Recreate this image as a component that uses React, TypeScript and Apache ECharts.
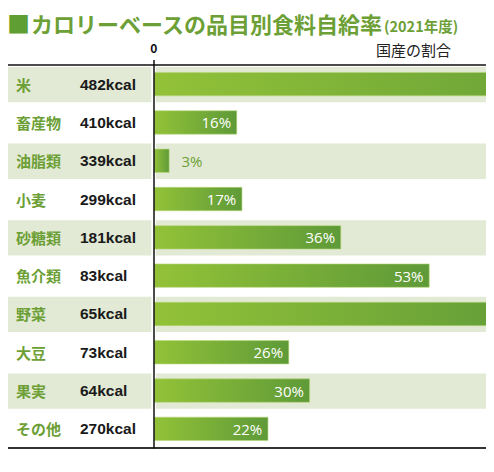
import React, { useEffect, useRef } from "react";
import * as echarts from "echarts";

const categories = ["米", "畜産物", "油脂類", "小麦", "砂糖類", "魚介類", "野菜", "大豆", "果実", "その他"];
const kcal = ["482kcal", "410kcal", "339kcal", "299kcal", "181kcal", "83kcal", "65kcal", "73kcal", "64kcal", "270kcal"];
const domesticShare = [98, 16, 3, 17, 36, 53, 76, 26, 30, 22];
const xTickLabels = [0];

const GREEN = "#6c9f35";
const BAND = "#e2e9d4";
const FONT = "'Noto Sans CJK JP', 'Noto Sans', sans-serif";
const VISIBLE_MAX = 60; // bars beyond this run off the page, so their labels are not shown

export default function App() {
  const ref = useRef<HTMLDivElement>(null);
  useEffect(() => {
    if (!ref.current) return;
    const chart = echarts.init(ref.current, null, { renderer: "svg" });
    const W = 494;
    const option: any = {
      animation: false,
      backgroundColor: "#ffffff",
      title: {
        left: 2,
        top: 6,
        text: "{sq|■}{main|カロリーベースの品目別食料自給率}{sub|(2021年度)}",
        textStyle: {
          fontFamily: FONT,
          rich: {
            sq: { fontSize: 23, color: "#5f9e33", fontFamily: FONT, padding: [0, 1, 0, 0] },
            main: { fontSize: 22, fontWeight: "bold", color: GREEN, fontFamily: FONT },
            sub: { fontSize: 14.5, fontWeight: "bold", color: GREEN, fontFamily: FONT, padding: [6, 0, 0, 1] },
          },
        },
      },
      graphic: [
        {
          type: "text",
          left: 376,
          top: 42,
          style: { text: "国産の割合", fontSize: 15, fill: "#222", fontFamily: FONT },
        },
      ],
      grid: { left: 3, right: -180, top: 65, bottom: 24, containLabel: false, outerBoundsMode: "none" },
      xAxis: [
        {
          type: "value",
          position: "top",
          min: -29,
          max: 100,
          splitLine: { show: false },
          axisLine: { show: true, lineStyle: { color: "#111", width: 1.5 } },
          axisTick: { show: true, customValues: xTickLabels, length: 5, lineStyle: { color: "#111", width: 1.5 } },
          axisLabel: { customValues: xTickLabels, color: "#111", fontSize: 12, fontWeight: "bold", fontFamily: FONT, margin: 12 },
        },
        {
          type: "value",
          position: "bottom",
          min: -29,
          max: 100,
          splitLine: { show: false },
          axisLine: { show: true, lineStyle: { color: "#333", width: 2 } },
          axisTick: { show: false },
          axisLabel: { show: false },
        },
      ],
      yAxis: {
        type: "category",
        data: categories,
        inverse: true,
        z: 3,
        axisLine: { show: true, onZero: true, lineStyle: { color: "#111", width: 1.5 } },
        axisTick: { show: false },
        axisLabel: {
          align: "left",
          margin: -13,
          formatter: (v: string) => {
            const i = categories.indexOf(v);
            return `{n|${v}}{k|${kcal[i]}}`;
          },
          rich: {
            n: { width: 64, align: "left", fontSize: 15, fontWeight: "bold", color: GREEN, fontFamily: FONT },
            k: { width: 62, align: "left", fontSize: 15.5, fontWeight: "bold", color: "#1a1a1a", fontFamily: "'Liberation Sans', Arial, sans-serif" },
          },
        },
      },
      series: [
        {
          type: "custom",
          z: -1,
          silent: true,
          clip: false,
          data: categories.map((c, i) => [0, i]),
          renderItem: (params: any, api: any) => {
            const idx = api.value(1);
            if (idx % 2 !== 0) return null;
            const c = api.coord([0, idx]);
            const h = api.size([0, 1])[1];
            const y = c[1] - h / 2 + 2;
            const hh = h - 3;
            return {
              type: "group",
              children: [
                { type: "rect", shape: { x: 3, y, width: c[0] - 5.5, height: hh }, style: { fill: BAND } },
                { type: "rect", shape: { x: c[0] + 2, y, width: W - c[0], height: hh }, style: { fill: BAND } },
              ],
            };
          },
        },
        {
          type: "bar",
          z: 2,
          barWidth: 24,
          data: domesticShare.map((v) =>
            v < 8
              ? { value: v, label: { position: "right", color: GREEN, distance: 12 } }
              : v > VISIBLE_MAX
              ? { value: v, label: { show: false } }
              : v
          ),
          itemStyle: {
            color: new echarts.graphic.LinearGradient(0, 0, 1, 0, [
              { offset: 0, color: "#93c238" },
              { offset: 1, color: "#5e9a38" },
            ]),
            borderColor: "#b9d77a",
            borderWidth: 0.6,
          },
          label: {
            show: true,
            position: "insideRight",
            distance: 6,
            color: "#ffffff",
            fontSize: 15,
            fontWeight: "normal",
            fontFamily: "'Open Sans', 'Noto Sans', sans-serif",
            formatter: (p: any) => `${p.value}%`,
          },
        },
      ],
    };
    chart.setOption(option);
    return () => chart.dispose();
  }, []);
  return <div ref={ref} style={{ width: 494, height: 472, margin: -8 }} />;
}
